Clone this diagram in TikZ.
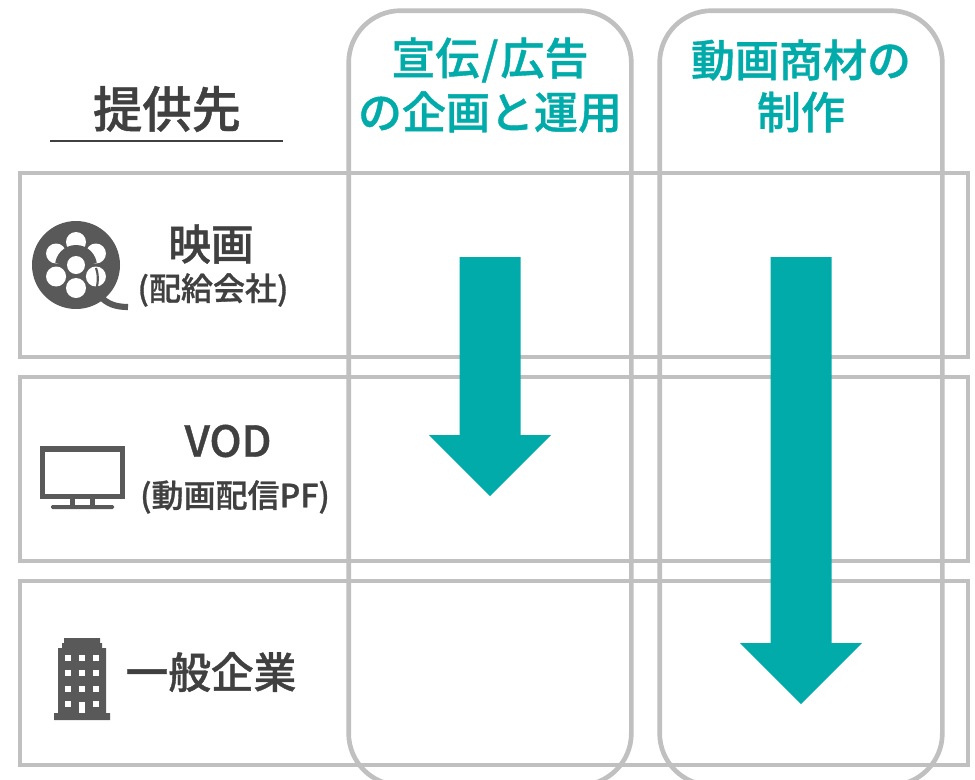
\documentclass[tikz,border=0pt]{standalone}
\usepackage{fontspec}
\setmainfont{Noto Sans CJK JP}[BoldFont={Noto Sans CJK JP Medium},BoldFeatures={FakeBold=0.9}]
\definecolor{frameGray}{HTML}{C0C0C0}
\definecolor{inkGray}{HTML}{404040}
\definecolor{iconGray}{HTML}{595959}
\definecolor{tealArrow}{HTML}{00ABAA}
\tikzset{
    rowbox/.style={draw=frameGray,line width=3.5pt,minimum width=711pt,minimum height=138pt,inner sep=0pt},
    colbox/.style={draw=frameGray,line width=3.5pt,rounded corners=39pt,minimum width=212pt,minimum height=581pt,inner sep=0pt},
    headlabel/.style={font=\fontsize{33}{33}\selectfont\bfseries,text=tealArrow,inner sep=0pt},
    rowlabel/.style={font=\fontsize{32}{32}\selectfont\bfseries,text=inkGray,inner sep=0pt},
    sublabel/.style={font=\fontsize{24}{24}\selectfont\bfseries,text=inkGray,inner sep=0pt}
}
\begin{document}
\begin{tikzpicture}[x=0.75pt,y=-0.75pt]
    \useasboundingbox (0,0) rectangle (975,779);
    \clip (0,0) rectangle (975,779);
    \fill[white] (0,0) rectangle (975,779);

    % Rows
    \node[rowbox] (rowfilm) at (494,265) {};
    \node[rowbox] (rowvod) at (494,469) {};
    \node[rowbox] (rowcorp) at (494,673) {};

    % Columns
    \node[colbox] (colads) at (490,398) {};
    \node[colbox] (colmake) at (801,398) {};

    % Column titles
    \node[headlabel] (adsa) at (490,60) {宣伝\kern1.5pt/\kern1.5pt広告};
    \node[headlabel] (adsb) at (490,112) {の企画と運用};
    \node[headlabel] (makea) at (801,60) {動画商材の};
    \node[headlabel] (makeb) at (801,112) {制作};

    % Left title
    \node[font=\fontsize{37}{37}\selectfont\bfseries,text=inkGray,inner sep=0pt] (client) at (167,109) {提供先};
    \draw[inkGray,line width=0.9pt] (50,141) -- (283,141);

    % Row labels
    \node[rowlabel] (film) at (211,244) {映画};
    \node[sublabel] (filmsub) at (213,290) {(配給会社)};
    \node[rowlabel] (vod) at (228,441) {VOD};
    \node[sublabel] (vodsub) at (235,497) {(動画配信PF)};
    \node[rowlabel] (corp) at (211,672) {一般企業};

    % Film reel
    \fill[iconGray] (76,265) circle (44);
    \foreach \a in {30,90,150,210,270,330} {
        \fill[white] (76,265) ++(\a:23) circle (10);
    }
    \begin{scope}
        \clip (30,220) rectangle (122,262);
        \fill[iconGray] (76,266) circle (21);
    \end{scope}
    \fill[white] (76,265) circle (9);
    \draw[iconGray,line width=1.6pt] (96,268) .. controls (99,276) and (98,286) .. (95,292);
    \draw[iconGray,line width=4.6pt] (100,296) .. controls (107,304) and (116,307) .. (128,307);

    % Screen
    \fill[iconGray] (40,446) rectangle (125,499);
    \fill[white] (45,452) rectangle (120,494);
    \fill[iconGray] (70,499) rectangle (75,506);
    \fill[iconGray] (90,499) rectangle (95,506);
    \fill[iconGray,rounded corners=1pt] (51,505) rectangle (114,509);

    % Building
    \fill[iconGray] (54,720) -- (54,713) -- (58,713) -- (58,648) -- (62,648) -- (62,643) -- (64,643) -- (64,638)
        -- (100,638) -- (100,643) -- (102,643) -- (102,648) -- (106,648) -- (106,713) -- (110,713) -- (110,720) -- cycle;
    \foreach \y in {657.7,673.3,689,704.3} {
        \foreach \x in {68.3,95.7} {
            \fill[white] (\x-3,\y-3) rectangle (\x+3,\y+3);
        }
    }
    \foreach \y in {657.7,673.3,689} {
        \fill[white] (78.7,\y-3) rectangle (84.7,\y+3);
    }
    \fill[white] (78.7,702) rectangle (84.7,713);

    % Arrows
    \foreach \x/\b in {490/435,801/643} {
        \fill[tealArrow] (\x-30.5,257) -- (\x+30.5,257) -- (\x+30.5,\b) -- (\x+61,\b) -- (\x,\b+61) -- (\x-61,\b) -- (\x-30.5,\b) -- cycle;
    }
\end{tikzpicture}
\end{document}
